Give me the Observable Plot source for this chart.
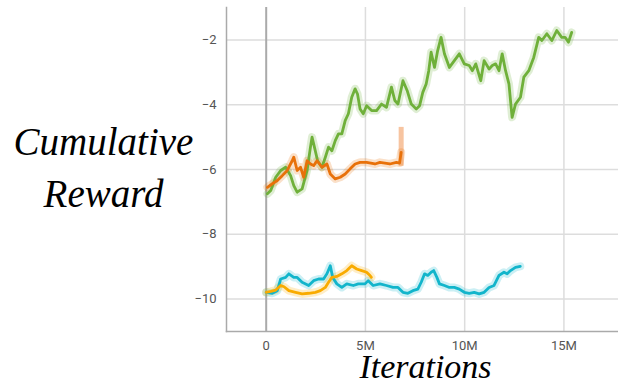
<!DOCTYPE html>
<html><head><meta charset="utf-8">
<script src="https://cdn.jsdelivr.net/npm/d3@7"></script>
<script src="https://cdn.jsdelivr.net/npm/@observablehq/plot@0.6"></script>
<style>body{margin:0;background:#fff}</style>
</head><body><div id="chart"></div>
<script>
// iterations in millions
const greenX = [0.06,0.23,0.48,0.73,0.98,1.23,1.39,1.56,1.81,2.06,2.23,2.31,2.43,2.59,2.81,2.98,3.14,3.31,3.48,3.64,3.81,3.98,4.14,4.31,4.48,4.6,4.73,4.89,5.06,5.31,5.56,5.81,6.06,6.31,6.48,6.64,6.89,7.1,7.31,7.56,7.73,7.89,8.06,8.19,8.31,8.48,8.64,8.81,8.98,9.23,9.48,9.73,9.98,10.23,10.39,10.56,10.81,10.98,11.23,11.39,11.56,11.73,11.89,12.06,12.23,12.39,12.56,12.81,12.98,13.23,13.48,13.73,13.89,14.14,14.39,14.64,14.89,15.06,15.23,15.39];
const greenY = [-6.75,-6.65,-6.24,-6.03,-5.93,-6.19,-6.5,-6.7,-6.6,-6.03,-5.31,-5.0,-5.31,-5.73,-5.93,-5.62,-5.31,-5.42,-5.11,-4.9,-4.9,-4.49,-4.28,-3.77,-3.51,-3.67,-4.13,-4.28,-4.03,-4.18,-4.18,-3.98,-4.08,-3.46,-3.87,-3.98,-3.26,-3.56,-3.98,-4.13,-4.03,-3.62,-3.36,-2.95,-2.38,-2.85,-2.33,-1.92,-2.43,-2.85,-2.64,-2.43,-2.74,-2.79,-2.95,-2.74,-3.26,-2.64,-2.9,-2.79,-2.74,-2.95,-2.43,-2.95,-3.36,-4.39,-3.98,-3.77,-3.15,-2.95,-2.54,-1.92,-2.02,-1.81,-2.02,-1.71,-1.92,-1.92,-2.07,-1.77,-1.92,-1.81,-1.92];
const orangeX = [0.06,0.31,0.56,0.81,1.06,1.31,1.39,1.56,1.73,1.89,2.06,2.23,2.39,2.56,2.81,3.06,3.23,3.48,3.73,3.98,4.23,4.48,4.73,5.06,5.48,5.73,6.23,6.56,6.72,6.8];
const orangeY = [-6.55,-6.44,-6.34,-6.19,-6.03,-5.73,-5.62,-6.03,-5.93,-6.24,-5.73,-5.83,-5.88,-5.73,-5.93,-5.83,-6.14,-6.29,-6.24,-6.14,-5.98,-5.83,-5.78,-5.78,-5.83,-5.78,-5.83,-5.78,-5.8,-5.47];
const yellowX = [0.0,0.23,0.48,0.73,0.9,1.14,1.48,1.81,2.14,2.48,2.73,2.98,3.14,3.31,3.56,3.81,4.06,4.31,4.56,4.81,5.06,5.23,5.3];
const yellowY = [-9.79,-9.76,-9.72,-9.58,-9.62,-9.74,-9.79,-9.84,-9.82,-9.79,-9.74,-9.64,-9.48,-9.33,-9.3,-9.22,-9.12,-8.97,-9.07,-9.12,-9.17,-9.27,-9.33];
const cyanX = [0.0,0.31,0.56,0.73,0.98,1.14,1.39,1.56,1.81,2.14,2.39,2.64,2.89,3.06,3.23,3.35,3.56,3.81,4.06,4.39,4.64,4.98,5.14,5.39,5.73,6.06,6.39,6.64,6.89,7.14,7.39,7.64,7.81,7.98,8.14,8.31,8.44,8.6,8.73,8.98,9.23,9.48,9.73,9.98,10.23,10.48,10.73,10.98,11.23,11.48,11.73,11.98,12.14,12.31,12.56,12.8];
const cyanY = [-9.79,-9.82,-9.74,-9.38,-9.33,-9.22,-9.33,-9.33,-9.48,-9.58,-9.43,-9.38,-9.38,-9.22,-8.97,-9.33,-9.53,-9.64,-9.53,-9.58,-9.53,-9.53,-9.43,-9.58,-9.53,-9.58,-9.64,-9.64,-9.79,-9.82,-9.74,-9.69,-9.48,-9.22,-9.27,-9.17,-9.12,-9.33,-9.53,-9.58,-9.64,-9.64,-9.69,-9.79,-9.82,-9.79,-9.84,-9.79,-9.64,-9.58,-9.27,-9.17,-9.22,-9.12,-9.02,-8.99];
const orangeSpikeX = [6.8];
const orangeSpikeLow = [-5.9];
const orangeSpikeHigh = [-4.7];
const xTicks = [0, 5, 10, 15];
const xTickLabels = ["0", "5M", "10M", "15M"];
const yTicks = [-2, -4, -6, -8, -10];
const yLabel = "Cumulative\nReward";
const xLabel = "Iterations";

const series = [
  {name: "green", X: greenX, Y: greenY, color: "#6fb03a"},
  {name: "orange", X: orangeX, Y: orangeY, color: "#e8710a"},
  {name: "yellow", X: yellowX, Y: yellowY, color: "#f9ab00"},
  {name: "cyan", X: cyanX, Y: cyanY, color: "#12b5cb"}
];
const rows = series.flatMap(s => s.X.map((x, i) => ({series: s.name, x, y: s.Y[i], color: s.color})));
const order = ["cyan", "yellow", "green", "orange"];
const byOrder = order.map(n => rows.filter(r => r.series === n));
const fmtX = d => xTickLabels[xTicks.indexOf(d)];

const chart = Plot.plot({
  width: 618, height: 385,
  marginLeft: 226, marginRight: 0, marginTop: 7, marginBottom: 54,
  style: {fontFamily: "Roboto, sans-serif", fontSize: "13px", color: "#555", background: "#fff"},
  x: {domain: [-2, 17.75], ticks: xTicks, tickFormat: fmtX, tickSize: 0, tickPadding: 9, label: null},
  y: {domain: [-11, -1], ticks: yTicks, tickSize: 0, tickPadding: 10, label: null},
  marks: [
    Plot.gridX(xTicks.filter(d => d !== 0), {stroke: "#ddd", strokeWidth: 1.5, strokeOpacity: 1}),
    Plot.gridY(yTicks, {stroke: "#ddd", strokeWidth: 1.5, strokeOpacity: 1}),
    Plot.ruleX([0], {stroke: "#aaa", strokeWidth: 2}),
    Plot.frame({anchor: "left", stroke: "#aaa", strokeWidth: 1.5}),
    Plot.frame({anchor: "bottom", stroke: "#aaa", strokeWidth: 1.5}),
    Plot.axisX({ticks: xTicks, tickFormat: fmtX, tickSize: 0, tickPadding: 9, label: null}),
    Plot.axisY({ticks: yTicks, tickSize: 0, tickPadding: 10, label: null}),
    Plot.ruleX(orangeSpikeX, {y1: orangeSpikeLow, y2: orangeSpikeHigh, stroke: "#f7c4a0", strokeWidth: 5}),
    ...byOrder.map(d => Plot.line(d, {x: "x", y: "y", stroke: "color", strokeWidth: 8, strokeOpacity: 0.22, curve: "linear"})),
    ...byOrder.map(d => Plot.line(d, {x: "x", y: "y", stroke: "color", strokeWidth: 2.8, curve: "linear"})),
    Plot.text([yLabel], {frameAnchor: "left", dx: -123, dy: -5, textAnchor: "middle", lineHeight: 1.33, fontSize: 39, fontStyle: "italic", fontFamily: "Liberation Serif", fill: "#000"}),
    Plot.text([xLabel], {frameAnchor: "bottom", dx: 3, dy: 46, textAnchor: "middle", fontSize: 34, fontStyle: "italic", fontFamily: "Liberation Serif", fill: "#000"})
  ]
});
document.getElementById("chart").appendChild(chart);
</script></body></html>
